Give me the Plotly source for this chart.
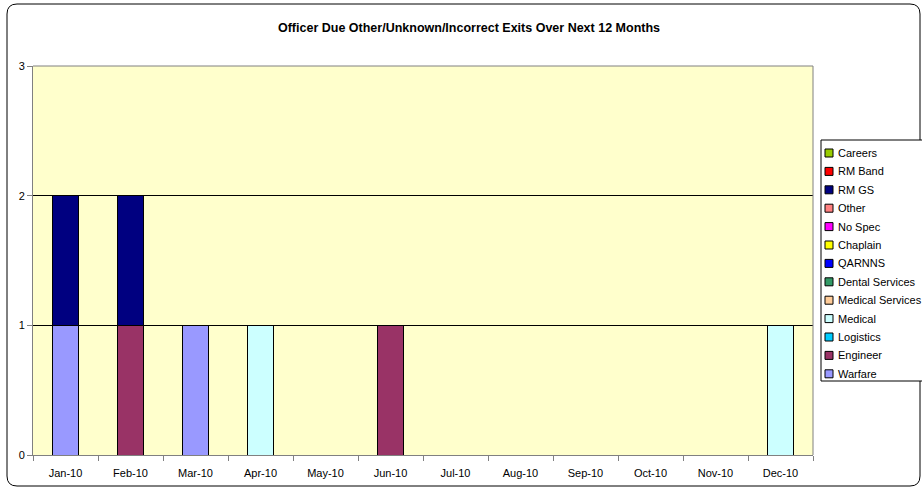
import plotly.graph_objects as go

months = ["Jan-10", "Feb-10", "Mar-10", "Apr-10", "May-10", "Jun-10",
          "Jul-10", "Aug-10", "Sep-10", "Oct-10", "Nov-10", "Dec-10"]

# bottom of the stack first
warfare = [1, 0, 1, 0, 0, 0, 0, 0, 0, 0, 0, 0]
engineer = [0, 1, 0, 0, 0, 1, 0, 0, 0, 0, 0, 0]
logistics = [0] * 12
medical = [0, 0, 0, 1, 0, 0, 0, 0, 0, 0, 0, 1]
medical_services = [0] * 12
dental_services = [0] * 12
qarnns = [0] * 12
chaplain = [0] * 12
no_spec = [0] * 12
other = [0] * 12
rm_gs = [1, 1, 0, 0, 0, 0, 0, 0, 0, 0, 0, 0]
rm_band = [0] * 12
careers = [0] * 12

series = [
    ("Warfare", warfare, "#9999FF"),
    ("Engineer", engineer, "#993366"),
    ("Logistics", logistics, "#00CCFF"),
    ("Medical", medical, "#CCFFFF"),
    ("Medical Services", medical_services, "#FFCC99"),
    ("Dental Services", dental_services, "#339966"),
    ("QARNNS", qarnns, "#0000FF"),
    ("Chaplain", chaplain, "#FFFF00"),
    ("No Spec", no_spec, "#FF00FF"),
    ("Other", other, "#FF8080"),
    ("RM GS", rm_gs, "#000080"),
    ("RM Band", rm_band, "#FF0000"),
    ("Careers", careers, "#99CC00"),
]

fig = go.Figure()
for name, vals, col in series:
    fig.add_trace(go.Bar(
        x=months, y=vals, name=name,
        marker=dict(color=col, line=dict(color="black", width=1)),
    ))

# plot area in pixels: left 33, right 813, top 66, bottom 455
L, R, T, B = 33, 813, 66, 455
W, H = R - L, B - T


def px(x):
    return (x - L) / W


def py(y):
    return (B - y) / H


# rounded outer frame of the chart
x0, x1, y0, y1, r = 7, 920, 4, 486, 10
path = (f"M {px(x0 + r)} {py(y0)} L {px(x1 - r)} {py(y0)} "
        f"Q {px(x1)} {py(y0)} {px(x1)} {py(y0 + r)} "
        f"L {px(x1)} {py(y1 - r)} Q {px(x1)} {py(y1)} {px(x1 - r)} {py(y1)} "
        f"L {px(x0 + r)} {py(y1)} Q {px(x0)} {py(y1)} {px(x0)} {py(y1 - r)} "
        f"L {px(x0)} {py(y0 + r)} Q {px(x0)} {py(y0)} {px(x0 + r)} {py(y0)} Z")

shapes = [
    dict(type="path", path=path, xref="paper", yref="paper",
         line=dict(color="black", width=1), layer="above"),
    dict(type="line", xref="paper", yref="paper", x0=0, x1=1, y0=1, y1=1,
         line=dict(color="#808080", width=1)),
    dict(type="line", xref="paper", yref="paper", x0=1, x1=1, y0=0, y1=1,
         line=dict(color="#808080", width=1)),
    # legend box (runs off the right edge like the original)
    dict(type="rect", xref="paper", yref="paper",
         x0=px(821), x1=px(930), y0=py(140), y1=py(381),
         fillcolor="white", line=dict(color="black", width=1), layer="above"),
]
annotations = []

# legend entries, top to bottom: Careers ... Warfare
for i, (name, _, col) in enumerate(reversed(series)):
    cy = 153 + i * 18.4
    shapes.append(dict(type="rect", xref="paper", yref="paper",
                       x0=px(825), x1=px(833), y0=py(cy - 4), y1=py(cy + 4),
                       fillcolor=col, line=dict(color="black", width=1), layer="above"))
    annotations.append(dict(text=name, xref="paper", yref="paper",
                            x=px(836), y=py(cy), xanchor="left", yanchor="middle",
                            showarrow=False, font=dict(size=11)))

fig.update_layout(
    width=922, height=488,
    margin=dict(l=L, r=922 - R, t=T, b=488 - B, autoexpand=False),
    barmode="stack",
    bargap=0.6,
    paper_bgcolor="white",
    plot_bgcolor="#FFFFCC",
    font=dict(family="Liberation Sans, Arial", size=11, color="black"),
    title=dict(text="<b>Officer Due Other/Unknown/Incorrect Exits Over Next 12 Months</b>",
               font=dict(size=12.5), x=469 / 922, xanchor="center", y=1 - 28 / 488, yanchor="middle"),
    showlegend=False,
    xaxis=dict(
        type="category", showline=True, linecolor="#808080", linewidth=1,
        ticks="outside", ticklen=5, tickcolor="#808080", tickson="boundaries",
        showgrid=False, tickfont=dict(size=11), ticklabelstandoff=8,
    ),
    yaxis=dict(
        range=[0, 3], dtick=1, showline=True, linecolor="#808080", linewidth=1,
        ticks="outside", ticklen=5, tickcolor="#808080",
        showgrid=True, gridcolor="black", gridwidth=1, zeroline=False,
        tickfont=dict(size=11),
    ),
    shapes=shapes,
    annotations=annotations,
)

fig.write_html("out.html", config={"displayModeBar": False},
               post_script="document.body.style.margin='0';")
